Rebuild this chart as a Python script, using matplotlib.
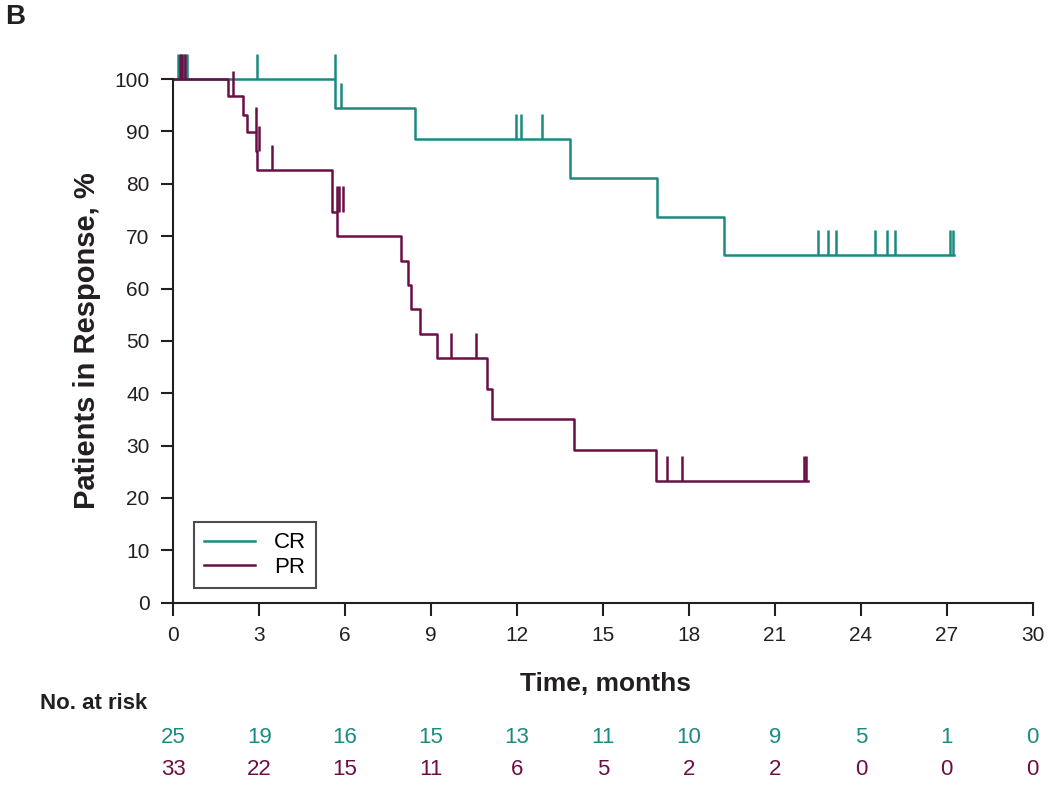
import matplotlib
matplotlib.use("Agg")
import matplotlib.pyplot as plt
import numpy as np
from matplotlib.transforms import blended_transform_factory

plt.rcParams['font.family'] = ['Liberation Sans', 'DejaVu Sans']

TEAL = '#1b8a7f'
MAROON = '#6b0f45'
INK = '#231f20'

# CR curve: step times (months) and % still in response
cr_times = [0, 5.66, 8.43, 13.86, 16.88, 19.22]
cr_surv = [100, 94.4, 88.5, 81.1, 73.7, 66.4]
cr_end = 27.25
cr_cens_t = [0.18, 0.28, 0.38, 0.48, 2.92, 5.66, 5.84, 11.98, 12.13, 12.88,
             22.52, 22.85, 23.15, 24.51, 24.9, 25.19, 27.12, 27.2]
cr_cens_s = [100, 100, 100, 100, 100, 100, 94.4, 88.5, 88.5, 88.5,
             66.4, 66.4, 66.4, 66.4, 66.4, 66.4, 66.4, 66.4]

# PR curve
pr_times = [0, 1.9, 2.44, 2.56, 2.88, 2.92, 5.55, 5.72, 7.94, 8.2, 8.3, 8.6,
            9.19, 10.95, 11.13, 13.99, 16.86]
pr_surv = [100, 96.7, 93.2, 89.8, 86.2, 82.6, 74.7, 70.0, 65.3, 60.7, 56.0, 51.3,
           46.7, 40.8, 35.0, 29.2, 23.3]
pr_end = 22.15
pr_cens_t = [0.22, 0.32, 0.42, 2.07, 2.88, 3.0, 3.43, 5.70, 5.79, 5.91,
             9.71, 10.56, 17.23, 17.77, 22.03, 22.1]
pr_cens_s = [100, 100, 100, 96.7, 89.8, 86.2, 82.6, 74.7, 74.7, 74.7,
             46.7, 46.7, 23.3, 23.3, 23.3, 23.3]

# number at risk table
risk_times = [0, 3, 6, 9, 12, 15, 18, 21, 24, 27, 30]
cr_risk = [25, 19, 16, 15, 13, 11, 10, 9, 5, 1, 0]
pr_risk = [33, 22, 15, 11, 6, 5, 2, 2, 0, 0, 0]

fig = plt.figure(figsize=(10.5, 7.86), dpi=100)
ax = fig.add_axes([0.165, 0.2332, 0.824, 0.7062])

tick_h = 4.8
for times, surv, end, ct, cs, col, lab in [
        (cr_times, cr_surv, cr_end, cr_cens_t, cr_cens_s, TEAL, 'CR'),
        (pr_times, pr_surv, pr_end, pr_cens_t, pr_cens_s, MAROON, 'PR')]:
    x = np.append(times, end)
    y = np.append(surv, surv[-1])
    ax.step(x, y, where='post', color=col, lw=1.8, label=lab)
    cs = np.array(cs)
    ax.vlines(ct, cs, cs + tick_h, color=col, lw=1.8)

ax.set_xlim(0, 30.2)
ax.set_ylim(0, 106)
ax.set_xticks(risk_times)
ax.set_yticks(np.arange(0, 101, 10))
ax.spines['top'].set_visible(False)
ax.spines['right'].set_visible(False)
ax.spines['left'].set_bounds(0, 100)
ax.spines['bottom'].set_bounds(0, 30)
for s in ['left', 'bottom']:
    ax.spines[s].set_linewidth(1.5)
    ax.spines[s].set_color(INK)
ax.tick_params(direction='out', length=9, width=1.5, labelsize=15,
               colors=INK)
ax.tick_params(axis='y', pad=8)
ax.tick_params(axis='x', pad=8)

ax.set_xlabel('Time, months', fontsize=19, fontweight='bold', color=INK,
              labelpad=19)
ax.set_ylabel('Patients in Response, %', fontsize=21, fontweight='bold',
              color=INK)
ax.yaxis.set_label_coords(-0.084, 0.473)

leg = ax.legend(loc='lower left', bbox_to_anchor=(0.024, 0.027),
                borderaxespad=0, fontsize=16, frameon=True, fancybox=False,
                handlelength=2.3, handletextpad=0.85, borderpad=0.45,
                labelspacing=0.15)
leg.get_frame().set_edgecolor(INK)
leg.get_frame().set_linewidth(1.5)

trans = blended_transform_factory(ax.transData, fig.transFigure)
for t, c, p in zip(risk_times, cr_risk, pr_risk):
    ax.text(t, 0.062, str(c), transform=trans, ha='center', va='center',
            fontsize=16, color=TEAL, clip_on=False)
    ax.text(t, 0.021, str(p), transform=trans, ha='center', va='center',
            fontsize=16, color=MAROON, clip_on=False)
fig.text(0.038, 0.105, 'No. at risk', fontsize=16, fontweight='bold',
         ha='left', va='center', color=INK)
fig.text(0.005, 0.978, 'B', fontsize=20, fontweight='bold', ha='left',
         va='center', color=INK)

fig.savefig('out.png', dpi=100)
